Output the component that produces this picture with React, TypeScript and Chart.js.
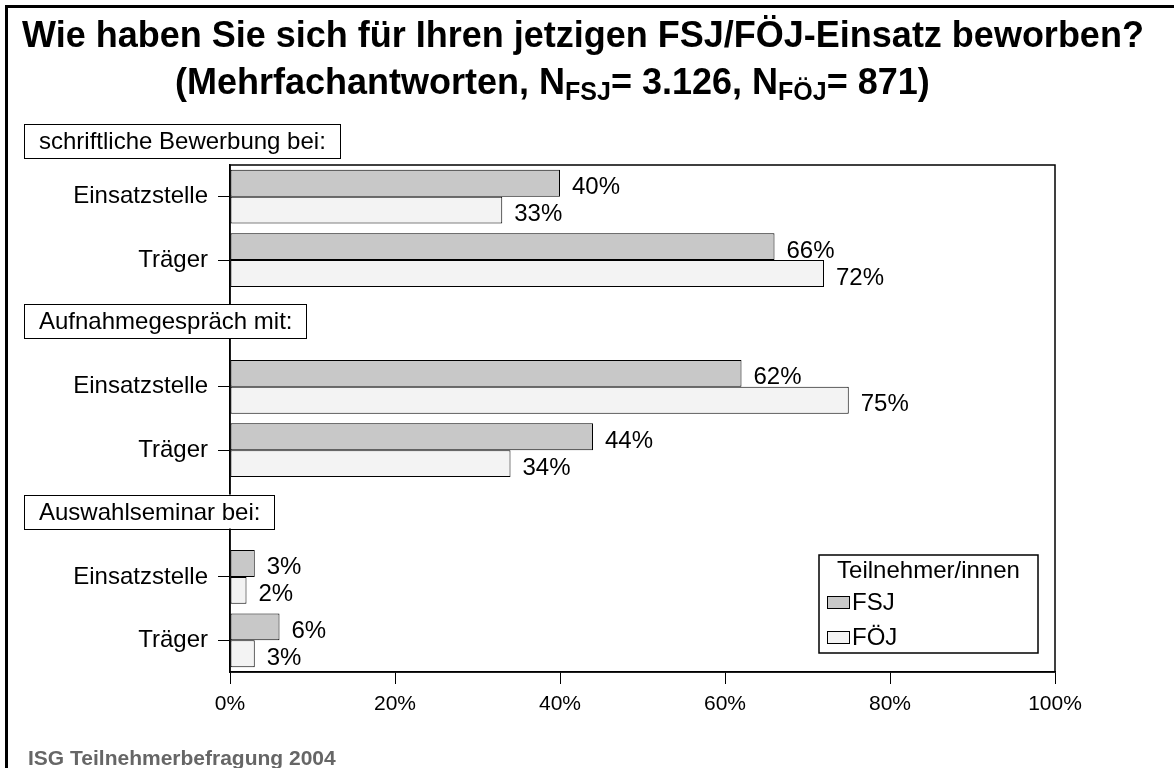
import React, { useEffect, useRef } from "react";
import { Chart, registerables } from "chart.js";

Chart.register(...registerables);

const FONT = "'Liberation Sans', Arial, Helvetica, sans-serif";

// ---- data ----
const categories = ["Einsatzstelle", "Träger", "", "Einsatzstelle", "Träger", "", "Einsatzstelle", "Träger"];
const fsjValues = [40, 66, null, 62, 44, null, 3, 6];
const foejValues = [33, 72, null, 75, 34, null, 2, 3];
const sectionHeaders = ["schriftliche Bewerbung bei:", "Aufnahmegespräch mit:", "Auswahlseminar bei:"];
const headerSlots = [-1, 2, 5]; // -1 = above the plot area
const xTickValues = [0, 20, 40, 60, 80, 100];
const seriesLabels = ["FSJ", "FÖJ"];
const seriesColors = ["#c8c8c8", "#f3f3f3"];
const legendTitle = "Teilnehmer/innen";
const titleLine1 = "Wie haben Sie sich für Ihren jetzigen FSJ/FÖJ-Einsatz beworben?";
const footerText = "ISG Teilnehmerbefragung 2004";

const decorPlugin = {
  id: "decor",
  afterDatasetsDraw(chart: any) {
    const { ctx, chartArea: a, scales } = chart;
    const y = scales.y;
    ctx.save();

    // plot frame
    ctx.strokeStyle = "#000";
    ctx.lineWidth = 1.5;
    ctx.strokeRect(a.left, a.top, a.right - a.left, a.bottom - a.top);

    // value labels
    ctx.font = `24px ${FONT}`;
    ctx.fillStyle = "#000";
    ctx.textAlign = "left";
    ctx.textBaseline = "alphabetic";
    chart.data.datasets.forEach((ds: any, di: number) => {
      const meta = chart.getDatasetMeta(di);
      meta.data.forEach((el: any, i: number) => {
        const v = ds.data[i];
        if (v == null) return;
        ctx.fillText(`${v}%`, el.x + 12, el.y + 11);
      });
    });

    // section header boxes
    sectionHeaders.forEach((h, k) => {
      const slot = headerSlots[k];
      const cy = slot < 0 ? a.top - 24 : y.getPixelForValue(slot) - 2;
      const w = ctx.measureText(h).width + 29;
      const hh = 34;
      ctx.fillStyle = "#fff";
      ctx.fillRect(24, cy - hh / 2, w, hh);
      ctx.strokeStyle = "#000";
      ctx.lineWidth = 1;
      ctx.strokeRect(24.5, Math.round(cy - hh / 2) + 0.5, Math.round(w), hh);
      ctx.fillStyle = "#000";
      ctx.fillText(h, 39, cy + 8);
    });

    // legend box
    const lw = 219;
    const lh = 98;
    const lx = a.right - 17 - lw;
    const ly = a.bottom - 19 - lh;
    ctx.fillStyle = "#fff";
    ctx.fillRect(lx, ly, lw, lh);
    ctx.strokeStyle = "#000";
    ctx.lineWidth = 1.5;
    ctx.strokeRect(lx, ly, lw, lh);
    ctx.fillStyle = "#000";
    ctx.textAlign = "center";
    ctx.fillText(legendTitle, lx + lw / 2, ly + 23);
    ctx.textAlign = "left";
    chart.data.datasets.forEach((ds: any, di: number) => {
      const sy = ly + 41 + di * 35;
      ctx.fillStyle = ds.backgroundColor;
      ctx.fillRect(lx + 8, sy, 22, 12);
      ctx.strokeStyle = "#000";
      ctx.lineWidth = 1;
      ctx.strokeRect(lx + 8.5, sy + 0.5, 22, 12);
      ctx.fillStyle = "#000";
      ctx.fillText(ds.label, lx + 33, sy + 14);
    });

    ctx.restore();
  },
};

function BarChart() {
  const ref = useRef<HTMLCanvasElement | null>(null);
  useEffect(() => {
    if (!ref.current) return;
    const chart = new Chart(ref.current, {
      type: "bar",
      data: {
        labels: categories,
        datasets: [
          {
            label: seriesLabels[0],
            data: fsjValues,
            backgroundColor: seriesColors[0],
            borderColor: "#000",
            borderWidth: 1,
            borderSkipped: false,
            categoryPercentage: 0.85,
            barPercentage: 1,
          },
          {
            label: seriesLabels[1],
            data: foejValues,
            backgroundColor: seriesColors[1],
            borderColor: "#000",
            borderWidth: 1,
            borderSkipped: false,
            categoryPercentage: 0.85,
            barPercentage: 1,
          },
        ],
      },
      options: {
        indexAxis: "y",
        responsive: false,
        animation: false,
        layout: { padding: { top: 165, right: 119, left: 0, bottom: 0 } },
        plugins: {
          legend: { display: false },
          tooltip: { enabled: false },
          title: { display: false },
        },
        scales: {
          x: {
            min: 0,
            max: 100,
            afterBuildTicks: (s: any) => {
              s.ticks = xTickValues.map((v) => ({ value: v }));
            },
            ticks: {
              callback: (v: any) => `${v}%`,
              font: { family: FONT, size: 21 },
              color: "#000",
              padding: 8,
              maxRotation: 0,
              autoSkip: false,
            },
            grid: { drawOnChartArea: false, drawTicks: true, tickLength: 12, color: "#000", lineWidth: 1 },
            border: { display: true, color: "#000", width: 1.5 },
            afterFit: (s: any) => {
              s.height = 96;
            },
          },
          y: {
            ticks: { font: { family: FONT, size: 24 }, color: "#000", padding: 10, autoSkip: false },
            grid: { drawOnChartArea: false, offset: false, tickLength: 12, color: "#000", lineWidth: 1 },
            border: { display: true, color: "#000", width: 1.5 },
            afterFit: (s: any) => {
              s.width = 230;
            },
          },
        },
      },
      plugins: [decorPlugin],
    } as any);
    return () => chart.destroy();
  }, []);
  return <canvas ref={ref} width={1174} height={768} style={{ position: "absolute", left: 0, top: 0 }} />;
}

export default function App() {
  const sub: React.CSSProperties = { fontSize: 25, position: "relative", top: 6 };
  return (
    <div
      style={{
        position: "fixed",
        left: 0,
        top: 0,
        width: 1174,
        height: 768,
        overflow: "hidden",
        background: "#fff",
        fontFamily: FONT,
        color: "#000",
      }}
    >
      <div
        style={{
          position: "absolute",
          left: 5,
          top: 5,
          width: 1300,
          height: 900,
          borderLeft: "3px solid #000",
          borderTop: "3px solid #000",
        }}
      />
      <BarChart />
      <div
        style={{
          position: "absolute",
          left: 22,
          top: 17,
          font: `bold 36px ${FONT}`,
          lineHeight: "36px",
          whiteSpace: "nowrap",
        }}
      >
        {titleLine1}
      </div>
      <div
        style={{
          position: "absolute",
          left: 175,
          top: 64,
          font: `bold 36px ${FONT}`,
          lineHeight: "36px",
          whiteSpace: "nowrap",
        }}
      >
        (Mehrfachantworten, N<span style={sub}>FSJ</span>= 3.126, N<span style={sub}>FÖJ</span>= 871)
      </div>
      <div
        style={{
          position: "absolute",
          left: 28,
          top: 747,
          font: `bold 21px ${FONT}`,
          lineHeight: "21px",
          color: "#666",
          whiteSpace: "nowrap",
        }}
      >
        {footerText}
      </div>
    </div>
  );
}
